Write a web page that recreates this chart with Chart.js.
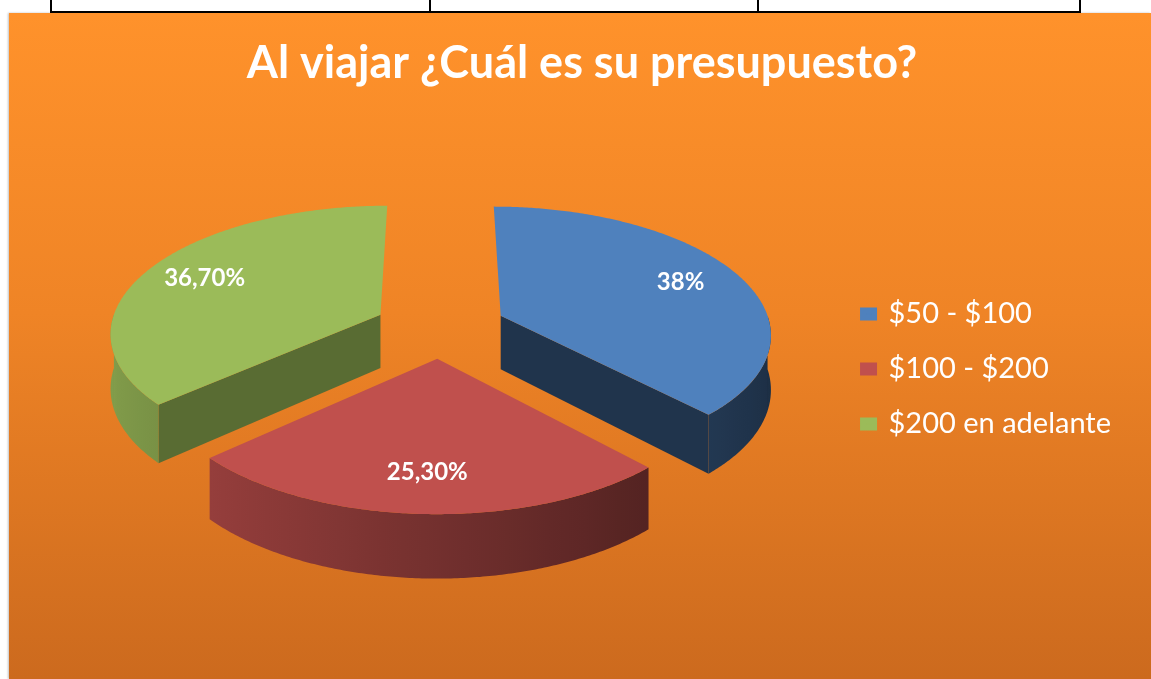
<!DOCTYPE html>
<html lang="es">
<head>
<meta charset="utf-8">
<title>Al viajar ¿Cuál es su presupuesto?</title>
<script src="https://cdn.jsdelivr.net/npm/chart.js@4.4.1/dist/chart.umd.min.js"></script>
<style>
  html, body { margin: 0; padding: 0; background: #fff; }
  body { width: 1151px; height: 679px; position: relative; overflow: hidden; }
  .cell-line { position: absolute; background: #000; }
  #chartBox {
    position: absolute; left: 9px; top: 13px; width: 1142px; height: 666px;
    background: linear-gradient(to bottom, #ff922b 0%, #ef8426 45%, #cc6a1e 100%);
    box-shadow: -1px 0 2px rgba(0, 0, 0, 0.25);
  }
  #budgetCanvas { display: block; }
</style>
</head>
<body>
<!-- bottom edge of the table above the chart -->
<div class="cell-line" style="left:50px;top:0;width:2px;height:13px"></div>
<div class="cell-line" style="left:429px;top:0;width:2px;height:13px"></div>
<div class="cell-line" style="left:757px;top:0;width:2px;height:13px"></div>
<div class="cell-line" style="left:1079px;top:0;width:2px;height:13px"></div>
<div class="cell-line" style="left:50px;top:11px;width:1031px;height:2px"></div>

<div id="chartBox"><canvas id="budgetCanvas" width="1142" height="666"></canvas></div>

<script>
// Survey answers
const categories = ['$50 - $100', '$100 - $200', '$200 en adelante'];
const shares = [38, 25.3, 36.7];

// Slice colours (Office palette)
const sliceColors = ['#4F81BD', '#C0504D', '#9BBB59'];

// 3D look: vertical squash, perspective strength, wall depth, explode distance
const VIEW = { tilt: 0.467, persp: 0.13, depth: 54, explode: 66, labelRadius: 0.76 };
const CUT_SHADE = { start: 0.575, end: 0.4 };

// light comes from the left, so walls facing left are brighter
function wallShade(angle) {
    return 0.6 - 0.24 * Math.cos(angle);
}

function shade(hex, f) {
    const n = parseInt(hex.slice(1), 16);
    const r = Math.round(((n >> 16) & 255) * f);
    const g = Math.round(((n >> 8) & 255) * f);
    const b = Math.round((n & 255) * f);
    return 'rgb(' + r + ',' + g + ',' + b + ')';
}

// Spanish style percent: 38 -> 38%, 25.3 -> 25,30%
function formatShare(v) {
    return Number.isInteger(v) ? v + '%' : v.toFixed(2).replace('.', ',') + '%';
}

// map a point of the flat pie (angle, radius) to the tilted view
function project(arc, mid, rho, ang, z) {
    const u = VIEW.explode * Math.cos(mid) + rho * Math.cos(ang);
    const w = VIEW.explode * Math.sin(mid) + rho * Math.sin(ang);
    const s = 1 / (1 - VIEW.persp * w / arc.outerRadius);
    return { x: arc.x + u * s, y: arc.y + (VIEW.tilt * w + z) * s };
}

function rimPoints(arc, mid, a0, a1, z) {
    const pts = [];
    const steps = Math.max(2, Math.ceil(Math.abs(a1 - a0) / 0.01));
    for (let i = 0; i <= steps; i++) {
        const a = a0 + (a1 - a0) * i / steps;
        pts.push(project(arc, mid, arc.outerRadius, a, z));
    }
    return pts;
}

function fillPoly(ctx, pts, style) {
    ctx.beginPath();
    pts.forEach((p, i) => (i ? ctx.lineTo(p.x, p.y) : ctx.moveTo(p.x, p.y)));
    ctx.closePath();
    ctx.fillStyle = style;
    ctx.fill();
}

function drawCutFace(ctx, arc, mid, ang, style) {
    const d = VIEW.depth;
    fillPoly(ctx, [
        project(arc, mid, 0, ang, 0),
        project(arc, mid, arc.outerRadius, ang, 0),
        project(arc, mid, arc.outerRadius, ang, d),
        project(arc, mid, 0, ang, d)
    ], style);
}

function drawWall(ctx, arc, mid, a0, a1, color) {
    const top = rimPoints(arc, mid, a0, a1, 0);
    const bottom = rimPoints(arc, mid, a1, a0, VIEW.depth);
    const xs = top.map(p => p.x);
    const xMin = Math.min(...xs);
    const xMax = Math.max(...xs);
    const grad = ctx.createLinearGradient(xMin, 0, xMax, 0);
    const steps = 12;
    for (let i = 0; i <= steps; i++) {
        const a = a0 + (a1 - a0) * i / steps;
        const x = project(arc, mid, arc.outerRadius, a, 0).x;
        grad.addColorStop(Math.min(1, Math.max(0, (x - xMin) / (xMax - xMin || 1))), shade(color, wallShade(a)));
    }
    fillPoly(ctx, top.concat(bottom), grad);
}

// Draws the exploded 3D pie from the arc geometry Chart.js computed
const pie3d = {
    id: 'pie3d',
    beforeDatasetsDraw(chart) {
        const ctx = chart.ctx;
        const meta = chart.getDatasetMeta(0);
        const colors = chart.data.datasets[0].backgroundColor;
        const values = chart.data.datasets[0].data;

        const slices = meta.data.map((el, i) => {
            const arc = el.getProps(['x', 'y', 'startAngle', 'endAngle', 'outerRadius'], true);
            return { arc, mid: (arc.startAngle + arc.endAngle) / 2, color: colors[i], value: values[i] };
        });
        // back to front
        slices.sort((a, b) => Math.sin(a.mid) - Math.sin(b.mid));

        ctx.save();
        // sides
        slices.forEach(s => {
            const { arc, mid, color } = s;
            const a0 = arc.startAngle;
            const a1 = arc.endAngle;
            if (Math.cos(a0) < -0.01) drawCutFace(ctx, arc, mid, a0, shade(color, CUT_SHADE.start));
            if (Math.cos(a1) > 0.01) drawCutFace(ctx, arc, mid, a1, shade(color, CUT_SHADE.end));
            const w0 = Math.max(a0, 0);
            const w1 = Math.min(a1, Math.PI);
            if (w1 > w0) drawWall(ctx, arc, mid, w0, w1, color);
        });

        // top faces
        slices.forEach(s => {
            const { arc, mid, color } = s;
            const pts = [project(arc, mid, 0, mid, 0)].concat(rimPoints(arc, mid, arc.startAngle, arc.endAngle, 0));
            fillPoly(ctx, pts, color);
        });

        // value labels
        ctx.fillStyle = '#ffffff';
        ctx.font = 'bold 24px Lato';
        ctx.textAlign = 'center';
        ctx.textBaseline = 'middle';
        slices.forEach(s => {
            const p = project(s.arc, s.mid, s.arc.outerRadius * VIEW.labelRadius, s.mid, 0);
            ctx.fillText(formatShare(s.value), p.x, p.y);
        });
        ctx.restore();
        return false;
    }
};

Chart.defaults.font.family = 'Lato';

new Chart(document.getElementById('budgetCanvas'), {
    type: 'pie',
    data: {
        labels: categories,
        datasets: [{
            data: shares,
            backgroundColor: sliceColors,
            // border only shows in the legend: it widens the small boxes
            borderColor: sliceColors,
            borderWidth: 6,
            radius: 270
        }]
    },
    options: {
        responsive: false,
        animation: false,
        events: [],
        layout: {
            padding: { left: 34, right: 30, top: 0, bottom: 125 }
        },
        plugins: {
            title: {
                display: true,
                text: 'Al viajar ¿Cuál es su presupuesto?',
                color: '#ffffff',
                font: { size: 45, weight: 'bold' },
                padding: { top: 23, bottom: 10 }
            },
            legend: {
                position: 'right',
                // empty title only pushes the legend items down
                title: {
                    display: true,
                    text: ' ',
                    font: { size: 10, lineHeight: 1 },
                    padding: { top: 0, bottom: 161 }
                },
                labels: {
                    color: '#ffffff',
                    font: { size: 29 },
                    boxWidth: 11,
                    boxHeight: 7,
                    padding: 26
                }
            },
            tooltip: { enabled: false }
        }
    },
    plugins: [pie3d]
});
</script>
</body>
</html>
